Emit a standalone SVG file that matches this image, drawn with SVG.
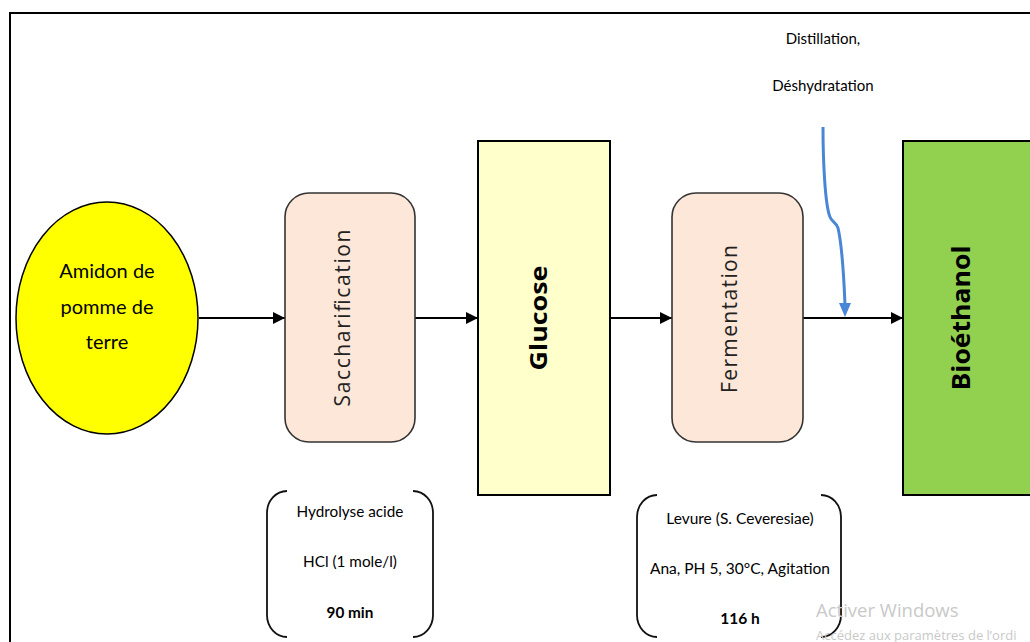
<svg xmlns="http://www.w3.org/2000/svg" width="1030" height="642" viewBox="0 0 1030 642">
  <style>
    .lbl { font-family: Lato, "Noto Sans", "Liberation Sans", sans-serif; fill: #000; text-anchor: middle; }
    .vert { font-family: "Open Sans", "Noto Sans", sans-serif; fill: #222; text-anchor: middle; dominant-baseline: central; }
    .vbold { font-family: "Open Sans", "Noto Sans", sans-serif; font-weight: bold; fill: #000; text-anchor: middle; dominant-baseline: central; }
    .step { fill: #fde7d8; stroke: #333; stroke-width: 1.6; }
    .flow { stroke: #000; stroke-width: 2; fill: none; }
    .brace { stroke: #111; stroke-width: 1.8; fill: none; }
    .wm { font-family: "Open Sans", "Noto Sans", sans-serif; fill: #c9c9c9; }
  </style>
  <defs>
    <marker id="arrow" viewBox="0 0 12 12" refX="12" refY="6" markerWidth="12" markerHeight="12" markerUnits="userSpaceOnUse" orient="auto">
      <path d="M0,0 L12,6 L0,12 Z" fill="#000"/>
    </marker>
    <marker id="arrowBlue" viewBox="0 0 12 14" refX="6" refY="2" markerWidth="12" markerHeight="14" markerUnits="userSpaceOnUse" orient="0">
      <path d="M0,0 L12,0 L6,14 Z" fill="#4a86d6"/>
    </marker>
  </defs>

  <rect width="1030" height="642" fill="#fff"/>
  <!-- page frame -->
  <path d="M10,642 L10,13 L1030,13" fill="none" stroke="#000" stroke-width="2"/>

  <g id="connectors">
    <line class="flow" x1="199" y1="318" x2="285" y2="318" marker-end="url(#arrow)"/>
    <line class="flow" x1="415" y1="318" x2="478" y2="318" marker-end="url(#arrow)"/>
    <line class="flow" x1="610" y1="318" x2="672" y2="318" marker-end="url(#arrow)"/>
    <line class="flow" x1="803" y1="318" x2="903" y2="318" marker-end="url(#arrow)"/>
    <path d="M823,127 C823,160 825,205 830,217 C832,222 836,222 838,228 C842,245 844,280 845,305" fill="none" stroke="#4a86d6" stroke-width="3" marker-end="url(#arrowBlue)"/>
  </g>

  <g id="amidon">
    <ellipse cx="107" cy="318" rx="91" ry="116" fill="#ffff00" stroke="#000" stroke-width="1.5"/>
    <text class="lbl" x="107" y="278" font-size="20">Amidon de</text>
    <text class="lbl" x="107" y="314" font-size="20">pomme de</text>
    <text class="lbl" x="107" y="349" font-size="20">terre</text>
  </g>

  <g id="saccharification">
    <rect class="step" x="285" y="193" width="130" height="249" rx="24"/>
    <text class="vert" font-size="21" textLength="177" lengthAdjust="spacing" transform="translate(342,318) rotate(-90)">Saccharification</text>
  </g>

  <g id="glucose">
    <rect x="478" y="141" width="132" height="354" fill="#ffffcc" stroke="#000" stroke-width="2"/>
    <text class="vbold" font-size="24" textLength="105" lengthAdjust="spacingAndGlyphs" transform="translate(537,318) rotate(-90)">Glucose</text>
  </g>

  <g id="fermentation">
    <rect class="step" x="672" y="193" width="131" height="249" rx="24"/>
    <text class="vert" font-size="21" textLength="148" lengthAdjust="spacing" transform="translate(729,319) rotate(-90)">Fermentation</text>
  </g>

  <g id="bioethanol">
    <rect x="903" y="141" width="140" height="354" fill="#92d050" stroke="#000" stroke-width="2"/>
    <text class="vbold" font-size="25" textLength="145" lengthAdjust="spacingAndGlyphs" transform="translate(960,318) rotate(-90)">Bioéthanol</text>
  </g>

  <g id="distillation">
    <text class="lbl" x="823" y="44" font-size="15">Distillation,</text>
    <text class="lbl" x="823" y="91" font-size="15">Déshydratation</text>
  </g>

  <g id="conditions-hydrolyse">
    <path class="brace" d="M287,491 A20,22 0 0 0 267,513 L267,615 A20,22 0 0 0 287,637"/>
    <path class="brace" d="M413,491 A20,22 0 0 1 433,513 L433,615 A20,22 0 0 1 413,637"/>
    <text class="lbl" x="350" y="517" font-size="15.3">Hydrolyse acide</text>
    <text class="lbl" x="350" y="567" font-size="15.3">HCl (1 mole/l)</text>
    <text class="lbl" x="350" y="618" font-size="15.3" font-weight="bold">90 min</text>
  </g>

  <g id="conditions-fermentation">
    <path class="brace" d="M657,495 A20,22 0 0 0 637,517 L637,615 A20,22 0 0 0 657,637"/>
    <path class="brace" d="M821,495 A20,22 0 0 1 841,517 L841,615 A20,22 0 0 1 821,637"/>
    <text class="lbl" x="740" y="524" font-size="15.5">Levure (S. Ceveresiae)</text>
    <text class="lbl" x="740" y="574" font-size="15.5">Ana, PH 5, 30°C, Agitation</text>
    <text class="lbl" x="740" y="624" font-size="15.5" font-weight="bold">116 h</text>
  </g>

  <!-- system watermark -->
  <text class="wm" x="816" y="617" font-size="18.5">Activer Windows</text>
  <text class="wm" x="816" y="640" font-size="13">Accédez aux paramètres de l’ordi</text>
</svg>
